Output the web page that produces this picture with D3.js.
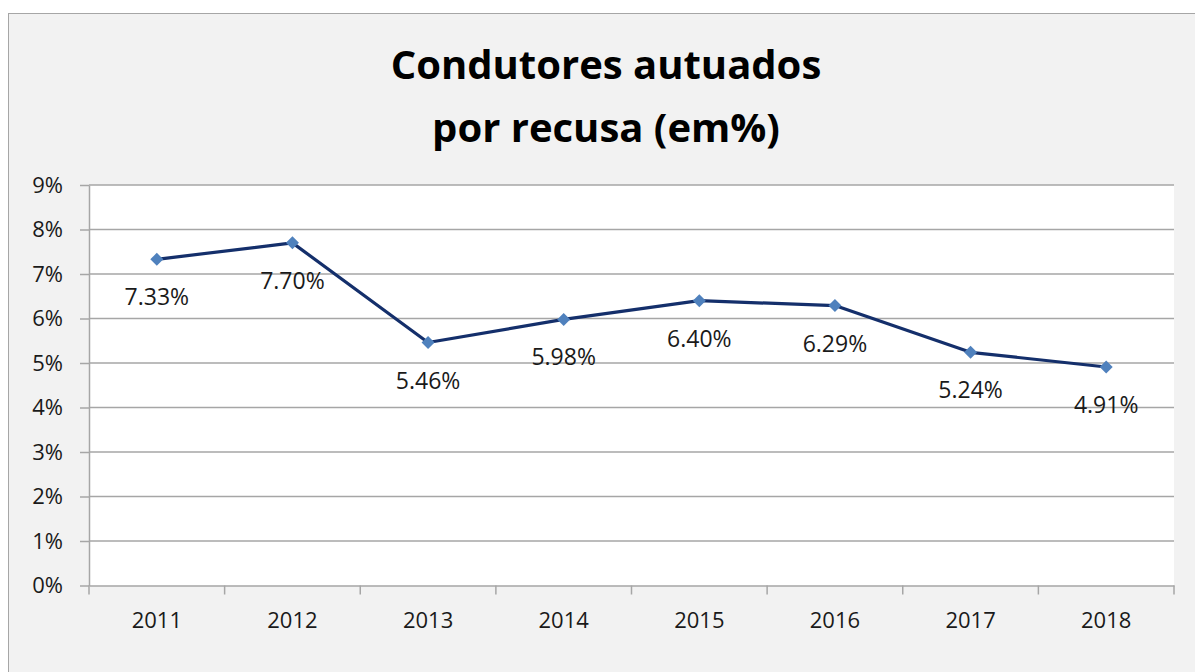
<!DOCTYPE html>
<html>
<head>
<meta charset="utf-8">
<script src="https://cdn.jsdelivr.net/npm/d3@7"></script>
<style>
  body { margin: 0; background: #ffffff; }
  svg { display: block; }
</style>
</head>
<body>
<div id="chart"></div>
<script>
// Dados do gráfico
const years = ["2011", "2012", "2013", "2014", "2015", "2016", "2017", "2018"];
const values = [7.33, 7.70, 5.46, 5.98, 6.40, 6.29, 5.24, 4.91];
const yTicks = [0, 1, 2, 3, 4, 5, 6, 7, 8, 9];
const titleLines = ["Condutores autuados", "por recusa (em%)"];

const width = 1195, height = 672;
const plot = { left: 89, right: 1174, top: 185, bottom: 585.5 };

const svg = d3.select("#chart").append("svg")
    .attr("width", width)
    .attr("height", height);

// fundo e moldura
svg.append("rect")
    .attr("x", 8.5).attr("y", 13.5)
    .attr("width", width + 10).attr("height", height + 10)
    .attr("fill", "#f2f2f2")
    .attr("stroke", "#a6a6a6")
    .attr("stroke-width", 1);

// área de plotagem
svg.append("rect")
    .attr("x", plot.left).attr("y", plot.top)
    .attr("width", plot.right - plot.left).attr("height", plot.bottom - plot.top)
    .attr("fill", "#ffffff");

const x = d3.scaleBand().domain(years).range([plot.left, plot.right]);
const y = d3.scaleLinear().domain([0, 9]).range([plot.bottom, plot.top]);

// título
svg.append("g").selectAll("text")
    .data(titleLines).enter().append("text")
    .attr("x", 606)
    .attr("y", (d, i) => 79 + i * 63)
    .attr("text-anchor", "middle")
    .style("font-family", "'Open Sans', sans-serif")
    .style("font-weight", "700")
    .style("font-size", "40px")
    .style("fill", "#000")
    .text(d => d);

// linhas de grade + eixo Y
const yAxis = svg.append("g")
    .attr("transform", `translate(${plot.left},0)`)
    .call(d3.axisLeft(y).tickValues(yTicks).tickSize(9).tickSizeOuter(0).tickFormat(d => d + "%"));
yAxis.select(".domain").attr("stroke", "#a6a6a6").attr("stroke-width", 1.5);
yAxis.selectAll(".tick line").attr("stroke", "#a6a6a6").attr("stroke-width", 1.5);
yAxis.selectAll(".tick text")
    .attr("x", -26)
    .style("font-family", "'Open Sans', sans-serif")
    .style("font-size", "22px")
    .style("fill", "#1a1a1a");

svg.append("g").selectAll("line")
    .data(yTicks.filter(d => d > 0)).enter().append("line")
    .attr("x1", plot.left).attr("x2", plot.right)
    .attr("y1", d => y(d)).attr("y2", d => y(d))
    .attr("stroke", "#a6a6a6").attr("stroke-width", 1.5);

// eixo X
const xAxis = svg.append("g")
    .attr("transform", `translate(0,${plot.bottom})`)
    .call(d3.axisBottom(x).tickSize(0).tickSizeOuter(0));
xAxis.select(".domain").attr("stroke", "#a6a6a6").attr("stroke-width", 1.5);
xAxis.selectAll(".tick text")
    .attr("dy", "1.8em")
    .style("font-family", "'Open Sans', sans-serif")
    .style("font-size", "22px")
    .style("fill", "#1a1a1a");

// marcas de separação entre categorias
const bounds = years.map(d => x(d)).concat([plot.right]);
svg.append("g").selectAll("line")
    .data(bounds).enter().append("line")
    .attr("x1", d => d).attr("x2", d => d)
    .attr("y1", plot.bottom).attr("y2", plot.bottom + 9)
    .attr("stroke", "#a6a6a6").attr("stroke-width", 1.5);

const cx = d => x(d) + x.bandwidth() / 2;

// linha
svg.append("path")
    .datum(values)
    .attr("fill", "none")
    .attr("stroke", "#142f6b")
    .attr("stroke-width", 3.2)
    .attr("stroke-linejoin", "round")
    .attr("d", d3.line().x((d, i) => cx(years[i])).y(d => y(d)));

// marcadores (losango)
svg.append("g").selectAll("path")
    .data(values).enter().append("path")
    .attr("transform", (d, i) => `translate(${cx(years[i])},${y(d)})`)
    .attr("d", "M0,-6.5L6.5,0L0,6.5L-6.5,0Z")
    .attr("fill", "#4f81bd");

// rótulos de dados
svg.append("g").selectAll("text")
    .data(values).enter().append("text")
    .attr("x", (d, i) => cx(years[i]))
    .attr("y", d => y(d) + 46)
    .attr("text-anchor", "middle")
    .style("font-family", "'Open Sans', sans-serif")
    .style("font-size", "23px")
    .style("fill", "#1a1a1a")
    .text(d => d.toFixed(2) + "%");
</script>
</body>
</html>
